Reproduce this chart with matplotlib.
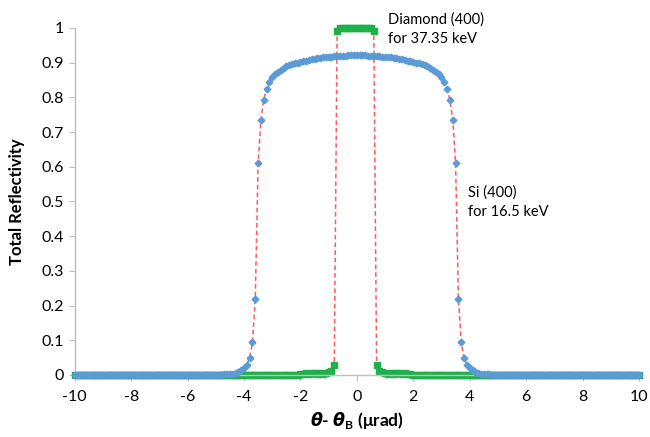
import numpy as np
import matplotlib
matplotlib.use("Agg")
import matplotlib.pyplot as plt

# ======================
# DATA
# ======================
# angular grid, urad
theta = np.round(np.arange(-10.0, 10.0001, 0.1), 1)

# Si (400) at 16.5 keV, values for -5.0 .. 5.0 (zeros outside)
si_core = [
    0.000, 0.0005, 0.001, 0.0015, 0.002, 0.003, 0.004, 0.006, 0.009, 0.013,
    0.019, 0.030, 0.050, 0.094, 0.220, 0.610, 0.736, 0.793, 0.824, 0.845,
    0.858, 0.867, 0.874, 0.880, 0.885, 0.889, 0.893, 0.896, 0.898, 0.900,
    0.902, 0.904, 0.906, 0.908, 0.910, 0.911, 0.913, 0.914, 0.915, 0.916,
    0.917, 0.917, 0.918, 0.919, 0.919, 0.920, 0.920, 0.921, 0.921, 0.921,
    0.921,
    0.921, 0.921, 0.921, 0.920, 0.920, 0.919, 0.919, 0.918, 0.917, 0.917,
    0.916, 0.915, 0.914, 0.913, 0.911, 0.910, 0.908, 0.906, 0.904, 0.902,
    0.900, 0.898, 0.896, 0.893, 0.889, 0.885, 0.880, 0.874, 0.867, 0.858,
    0.845, 0.824, 0.793, 0.736, 0.610, 0.220, 0.094, 0.050, 0.030, 0.019,
    0.013, 0.009, 0.006, 0.004, 0.003, 0.002, 0.0015, 0.001, 0.0005, 0.000,
]
si_refl = [0.0] * 50 + si_core + [0.0] * 50

# Diamond (400) at 37.35 keV, values for -2.5 .. 2.5 (zeros outside)
dia_core = [
    0.000, 0.000, 0.000, 0.001, 0.001, 0.002, 0.004, 0.006, 0.004, 0.005,
    0.006, 0.004, 0.005, 0.004, 0.006, 0.008, 0.012, 0.030, 0.990, 1.000,
    1.000, 1.000, 1.000, 1.000, 1.000, 1.000, 1.000, 1.000, 1.000, 1.000,
    1.000, 0.990, 0.030, 0.012, 0.008, 0.006, 0.004, 0.005, 0.004, 0.006,
    0.005, 0.004, 0.006, 0.004, 0.002, 0.001, 0.001, 0.000, 0.000, 0.000,
    0.000,
]
dia_refl = [0.0] * 75 + dia_core + [0.0] * 75

x_ticks = [-10, -8, -6, -4, -2, 0, 2, 4, 6, 8, 10]
y_ticks = [0, 0.1, 0.2, 0.3, 0.4, 0.5, 0.6, 0.7, 0.8, 0.9, 1]
y_labels = ["0", "0.1", "0.2", "0.3", "0.4", "0.5", "0.6", "0.7", "0.8", "0.9", "1"]

# ======================
# STYLE
# ======================
plt.rcParams["font.family"] = ["Lato", "DejaVu Sans"]
plt.rcParams["mathtext.fontset"] = "custom"
plt.rcParams["mathtext.it"] = "DejaVu Sans:italic:bold"
plt.rcParams["mathtext.rm"] = "Lato:bold"
plt.rcParams["mathtext.bf"] = "Lato:bold"

blue = "#5B9BD5"
green = "#1DB04B"
red = "#FF5A5A"
grey = "#BFBFBF"

fig = plt.figure(figsize=(6.5, 4.37), dpi=100)
ax = fig.add_axes([0.115, 0.142, 0.868, 0.794])

# dashed guide lines through both data sets
ax.plot(theta, dia_refl, ls=(0, (3, 2)), color=red, lw=1.1, zorder=1)
ax.plot(theta, si_refl, ls=(0, (3, 2)), color=red, lw=1.1, zorder=1)

# markers
ax.plot(theta, dia_refl, ls="none", marker="s", ms=3.8, color=green,
        mec=green, zorder=2, clip_on=False)
ax.plot(theta, si_refl, ls="none", marker="D", ms=3.4, color=blue,
        mec=blue, zorder=3, clip_on=False)

ax.set_xlim(-10, 10)
ax.set_ylim(0, 1)
ax.set_xticks(x_ticks)
ax.set_xticklabels([str(t) for t in x_ticks])
ax.set_yticks(y_ticks)
ax.set_yticklabels(y_labels)

for side in ["top", "right"]:
    ax.spines[side].set_visible(False)
for side in ["left", "bottom"]:
    ax.spines[side].set_color(grey)
    ax.spines[side].set_linewidth(1.0)
ax.tick_params(axis="both", colors="black", labelsize=11.5, length=4,
               color=grey, direction="out")
ax.tick_params(axis="x", pad=7)

ax.set_ylabel("Total Reflectivity", fontsize=12, fontweight="bold", labelpad=12)
ax.set_xlabel(r"$\theta$- $\theta_\mathrm{B}$ ($\mathrm{\mu}$rad)",
              fontsize=12.5, fontweight="bold", labelpad=4)

ax.text(1.1, 1.045, "Diamond (400)\nfor 37.35 keV", fontsize=10.5,
        va="top", ha="left", linespacing=1.45, clip_on=False)
ax.text(3.95, 0.545, "Si (400)\nfor 16.5 keV", fontsize=10.5,
        va="top", ha="left", linespacing=1.45)

fig.savefig("out.png", dpi=100)
